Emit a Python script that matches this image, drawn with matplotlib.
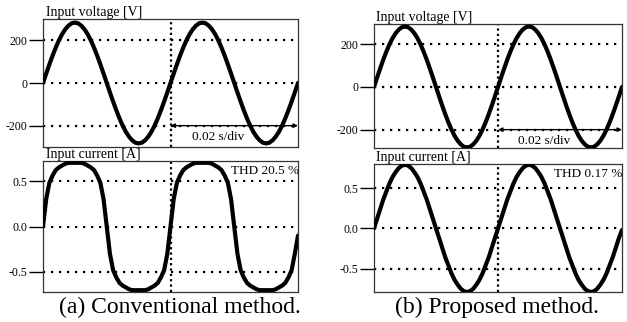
import numpy as np
import matplotlib
matplotlib.use('Agg')
import matplotlib.pyplot as plt

plt.rcParams['font.family'] = ['Liberation Serif', 'DejaVu Serif']
plt.rcParams['axes.unicode_minus'] = False

# sampling: 0 .. 0.04 s every 0.5 ms (two 50 Hz periods)
time = np.arange(81) * 0.0005

# input voltage [V] (same in both cases)
voltage = [0, 44, 87, 128, 166, 200, 229, 252, 269, 280,
           283, 280, 269, 252, 229, 200, 166, 128, 87, 44,
           0, -44, -87, -128, -166, -200, -229, -252, -269, -280,
           -283, -280, -269, -252, -229, -200, -166, -128, -87, -44,
           0, 44, 87, 128, 166, 200, 229, 252, 269, 280,
           283, 280, 269, 252, 229, 200, 166, 128, 87, 44,
           0, -44, -87, -128, -166, -200, -229, -252, -269, -280,
           -283, -280, -269, -252, -229, -200, -166, -128, -87, -44,
           0]

# input current [A], conventional method (flattened)
current_conv = [0, .30, .48, .56, .62, .65, .67, .69, .70, .70,
                .70, .70, .70, .69, .67, .65, .62, .56, .48, .30,
                0, -.30, -.48, -.56, -.62, -.65, -.67, -.69, -.70, -.70,
                -.70, -.70, -.70, -.69, -.67, -.65, -.62, -.56, -.48, -.30,
                0, .30, .48, .56, .62, .65, .67, .69, .70, .70,
                .70, .70, .70, .69, .67, .65, .62, .56, .48, .30,
                0, -.30, -.48, -.56, -.62, -.65, -.67, -.69, -.70, -.70,
                -.70, -.70, -.70, -.69, -.67, -.65, -.62, -.56, -.48, -.30,
                -.10]

# input current [A], proposed method
current_prop = [0, .12, .24, .36, .46, .56, .64, .70, .75, .78,
                .79, .78, .75, .70, .64, .56, .46, .36, .24, .12,
                0, -.12, -.24, -.36, -.46, -.56, -.64, -.70, -.75, -.78,
                -.79, -.78, -.75, -.70, -.64, -.56, -.46, -.36, -.24, -.12,
                0, .12, .24, .36, .46, .56, .64, .70, .75, .78,
                .79, .78, .75, .70, .64, .56, .46, .36, .24, .12,
                0, -.12, -.24, -.36, -.46, -.56, -.64, -.70, -.75, -.78,
                -.79, -.78, -.75, -.70, -.64, -.56, -.46, -.36, -.24, -.12,
                -.02]

v_ticks = [-200, 0, 200]
v_labels = ['-200', '0', '200']
i_ticks = [-0.5, 0.0, 0.5]
i_labels = ['-0.5', '0.0', '0.5']

W, H = 627, 322
fig = plt.figure(figsize=(W / 100, H / 100), dpi=100)


def box(x0, y0, x1, y1):
    # pixel box -> figure fraction
    return [x0 / W, 1 - y1 / H, (x1 - x0) / W, (y1 - y0) / H]


def setup(ax, y, ylim, ticks, labels, label):
    ax.plot(time, y, color='black', lw=3, solid_capstyle='round', zorder=3)
    ax.set_xlim(0, 0.04)
    ax.set_ylim(*ylim)
    ax.set_xticks([])
    ax.set_yticks(ticks)
    ax.set_yticklabels(labels)
    ax.tick_params(axis='y', direction='out', length=10, width=1,
                   labelsize=8.5, pad=1, colors='black')
    for yy in ticks:
        ax.axhline(yy, color='black', lw=1.6, dashes=(1, 2.6), zorder=1)
    ax.axvline(0.02, color='black', lw=1.6, dashes=(1, 1.4), zorder=1)
    for s in ax.spines.values():
        s.set_linewidth(0.9)
        s.set_color('#333333')
    ax.text(0.01, 1.0, label, transform=ax.transAxes, ha='left',
            va='bottom', fontsize=10)


panels = [
    (43, 298, (19, 147), (161, 292), (-300, 300), (-0.72, 0.72),
     current_conv, 'THD 20.5 %', '(a) Conventional method.', 180),
    (374, 622, (24, 148), (164, 292), (-286, 295), (-0.79, 0.80),
     current_prop, 'THD 0.17 %', '(b) Proposed method.', 497),
]

for x0, x1, vy, iy, vlim, ilim, cur, thd, cap, cx in panels:
    axv = fig.add_axes(box(x0, vy[0], x1, vy[1]))
    setup(axv, voltage, vlim, v_ticks, v_labels, 'Input voltage [V]')
    axv.annotate('', xy=(0.04, -200), xytext=(0.02, -200),
                 arrowprops=dict(arrowstyle='<|-|>', lw=1, color='black',
                                 mutation_scale=6, shrinkA=0, shrinkB=0))
    axv.text(0.0275, -255, '0.02 s/div', ha='center', va='center',
             fontsize=9.5)

    axi = fig.add_axes(box(x0, iy[0], x1, iy[1]))
    setup(axi, cur, ilim, i_ticks, i_labels, 'Input current [A]')
    axi.text(1.003, 0.97, thd, transform=axi.transAxes, ha='right',
             va='top', fontsize=9.5)

    fig.text(cx / W, 9 / H, cap, ha='center', va='baseline', fontsize=17)

fig.savefig('out.png', dpi=100)
